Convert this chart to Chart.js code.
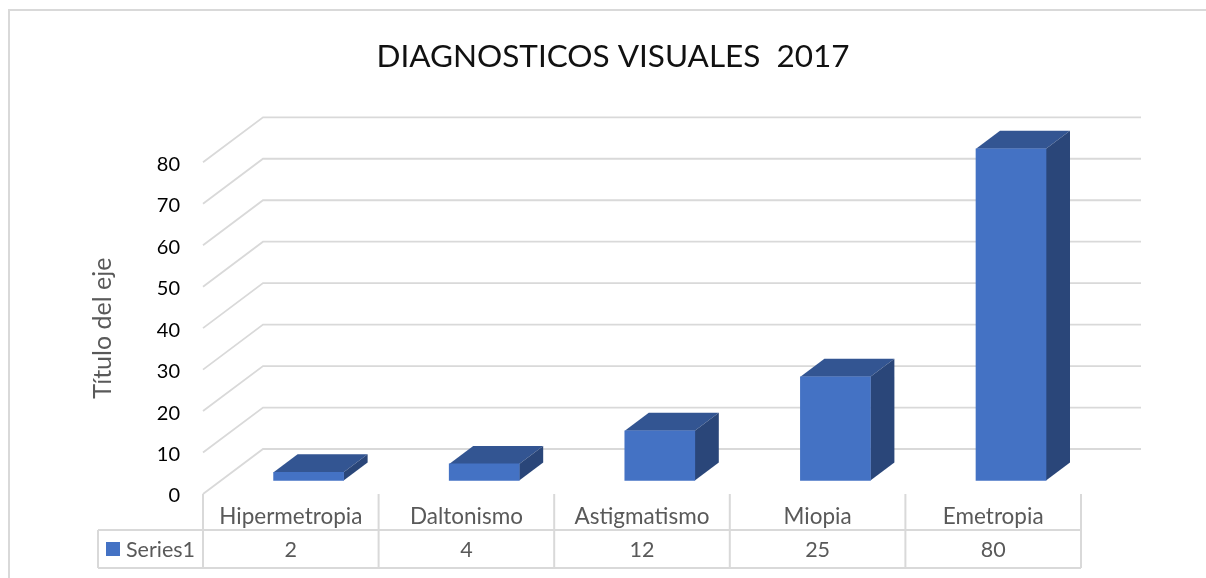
<!DOCTYPE html>
<html>
<head>
<meta charset="utf-8">
<title>Diagnosticos visuales 2017</title>
<script src="https://cdn.jsdelivr.net/npm/chart.js@4"></script>
<style>
  html, body { margin: 0; padding: 0; background: #fff; overflow: hidden; }
  #frame { position: absolute; left: 8px; top: 9px; width: 1300px; height: 700px; border: 2px solid #d9d9d9; }
  #wrap { position: absolute; left: 20px; top: 0; width: 1186px; height: 578px; }
</style>
</head>
<body>
<div id="frame"></div>
<div id="wrap"><canvas id="chart"></canvas></div>
<script>
const categories = ['Hipermetropia', 'Daltonismo', 'Astigmatismo', 'Miopia', 'Emetropia'];
const seriesName = 'Series1';
const seriesValues = [2, 4, 12, 25, 80];
const yTicks = [0, 10, 20, 30, 40, 50, 60, 70, 80];

const FONT = 'Lato, sans-serif';
const GRID = '#d9d9d9';
const TEXT = '#595959';

// fake 3D: floor depth of the wall and of each box
const WALL = { dx: 60, dy: -45 };
const BOX = { dx: 24, dy: -18 };
const BAR_SHIFT = { dx: 17.8, dy: -13.5 };

// ── Back wall and floor, built from the y scale ──
const wallPlugin = {
  id: 'wall',
  beforeDatasetsDraw(chart) {
    const { ctx, scales: { x, y } } = chart;
    ctx.save();
    ctx.strokeStyle = GRID;
    ctx.lineWidth = 1.8;
    for (const v of yTicks) {
      const py = y.getPixelForValue(v);
      ctx.beginPath();
      ctx.moveTo(x.left, py);
      ctx.lineTo(x.left + WALL.dx, py + WALL.dy);
      ctx.lineTo(x.right + WALL.dx, py + WALL.dy);
      ctx.stroke();
    }
    ctx.restore();

    // top and side faces of the boxes, then shift for the native front faces
    const meta = chart.getDatasetMeta(0);
    ctx.save();
    ctx.translate(BAR_SHIFT.dx, BAR_SHIFT.dy);
    meta.data.forEach((bar) => {
      const l = bar.x - bar.width / 2;
      const r = bar.x + bar.width / 2;
      ctx.fillStyle = '#335592';
      ctx.beginPath();
      ctx.moveTo(l, bar.y);
      ctx.lineTo(l + BOX.dx, bar.y + BOX.dy);
      ctx.lineTo(r + BOX.dx, bar.y + BOX.dy);
      ctx.lineTo(r, bar.y);
      ctx.closePath();
      ctx.fill();
      ctx.fillStyle = '#2a4679';
      ctx.beginPath();
      ctx.moveTo(r, bar.y);
      ctx.lineTo(r + BOX.dx, bar.y + BOX.dy);
      ctx.lineTo(r + BOX.dx, bar.base + BOX.dy);
      ctx.lineTo(r, bar.base);
      ctx.closePath();
      ctx.fill();
    });
    ctx.restore();
    ctx.save();
    ctx.translate(BAR_SHIFT.dx, BAR_SHIFT.dy);
  },
  afterDatasetsDraw(chart) {
    chart.ctx.restore();
  },
};

// ── Data table under the plot ──
const tablePlugin = {
  id: 'dataTable',
  afterDraw(chart) {
    const { ctx, scales: { x, y } } = chart;
    const zero = y.getPixelForValue(0);
    const rowTop = 530, rowBottom = 568, tableLeft = 78;
    const step = (x.right - x.left) / categories.length;

    ctx.save();
    ctx.strokeStyle = GRID;
    ctx.lineWidth = 2;
    ctx.beginPath();
    ctx.moveTo(tableLeft, rowTop);
    ctx.lineTo(x.right, rowTop);
    ctx.moveTo(tableLeft, rowBottom);
    ctx.lineTo(x.right, rowBottom);
    ctx.moveTo(tableLeft, rowTop);
    ctx.lineTo(tableLeft, rowBottom);
    for (let i = 0; i <= categories.length; i++) {
      ctx.moveTo(x.left + step * i, zero);
      ctx.lineTo(x.left + step * i, rowBottom);
    }
    ctx.stroke();

    ctx.font = '21.5px ' + FONT;
    ctx.fillStyle = TEXT;
    ctx.textAlign = 'center';
    ctx.textBaseline = 'middle';
    seriesValues.forEach((v, i) => {
      ctx.fillText(String(v), x.getPixelForTick(i), 550);
    });
    ctx.textAlign = 'left';
    ctx.fillText(seriesName, 106, 550);
    ctx.fillStyle = '#4472c4';
    ctx.fillRect(86, 542, 14, 14);
    ctx.restore();
  },
};

new Chart(document.getElementById('chart'), {
  type: 'bar',
  data: {
    labels: categories,
    datasets: [{
      label: seriesName,
      data: seriesValues,
      backgroundColor: '#4472c4',
      barThickness: 70,
      clip: false,
    }],
  },
  plugins: [wallPlugin, tablePlugin],
  options: {
    responsive: true,
    maintainAspectRatio: false,
    animation: false,
    layout: { padding: 0 },
    plugins: {
      legend: { display: false },
      tooltip: { enabled: false },
      title: {
        display: true,
        text: 'DIAGNOSTICOS VISUALES  2017',
        color: '#111',
        font: { family: FONT, size: 31.5, weight: 'normal' },
        padding: { top: 38, bottom: 86.5 },
      },
    },
    scales: {
      x: {
        grid: { display: false },
        border: { display: false },
        ticks: { color: TEXT, font: { family: FONT, size: 22.5 }, padding: 1, maxRotation: 0 },
        afterFit(scale) { scale.height = 84; },
      },
      y: {
        min: 0,
        max: 80,
        grid: { display: false, drawTicks: false },
        border: { display: false },
        ticks: { stepSize: 10, color: '#000', font: { family: FONT, size: 20 }, padding: 23, labelOffset: 2 },
        title: {
          display: true,
          text: 'Título del eje',
          color: TEXT,
          font: { family: FONT, size: 25, weight: 'normal' },
          padding: { top: 68, bottom: 0 },
        },
        afterFit(scale) { scale.width = 183; },
      },
      // empty right axis: keeps room for the wall depth while the title stays centred on the canvas
      spacer: {
        position: 'right',
        grid: { display: false },
        border: { display: false },
        ticks: { display: false },
        afterFit(scale) { scale.width = 125; },
      },
    },
  },
});
</script>
</body>
</html>
